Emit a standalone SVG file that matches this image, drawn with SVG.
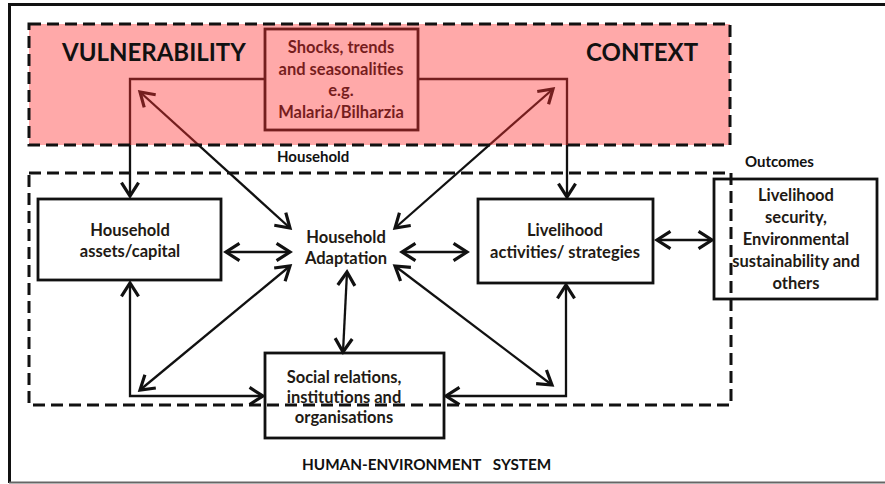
<svg xmlns="http://www.w3.org/2000/svg" width="885" height="484" viewBox="0 0 885 484">
<defs>
<marker id="ah" markerUnits="userSpaceOnUse" markerWidth="22" markerHeight="22" viewBox="-13 -9 15 18" refX="0" refY="0" orient="auto-start-reverse">
<path d="M-11,-7 L0,0 L-11,7" fill="none" stroke="#111" stroke-width="2.6" stroke-linejoin="miter"/>
</marker>
<style>
.box{fill:#fff;stroke:#111;stroke-width:2.8}
.lbl{font-family:Lato,"Liberation Sans",sans-serif;font-weight:bold;font-size:16.5px;fill:#221a14;text-anchor:middle}
.conn{fill:none;stroke:#111;stroke-width:2.3}
.dash{fill:none;stroke:#111;stroke-width:3;stroke-dasharray:12 6}
.title{font-family:Lato,"Liberation Sans",sans-serif;font-weight:bold;font-size:24px;fill:#111}
.cap{font-family:Lato,"Liberation Sans",sans-serif;font-weight:bold;font-size:15px;fill:#111}
</style>
</defs>
<rect width="885" height="484" fill="#fff"/>
<g id="frame">
<line x1="9" y1="4.5" x2="885" y2="4.5" stroke="#111" stroke-width="3"/>
<line x1="9.5" y1="3" x2="9.5" y2="483" stroke="#111" stroke-width="3"/>
<line x1="9" y1="482.5" x2="885" y2="482.5" stroke="#666" stroke-width="2"/>
</g>
<g id="shocks">
<rect class="box" x="265" y="29" width="153" height="101" style="fill:none"/>
<text class="lbl" x="341" y="53" style="fill:#111">Shocks, trends</text>
<text class="lbl" x="341" y="75" style="fill:#111">and seasonalities</text>
<text class="lbl" x="341" y="96" style="fill:#111">e.g.</text>
<text class="lbl" x="341" y="118" style="fill:#111">Malaria/Bilharzia</text>
</g>
<g id="assets">
<rect class="box" x="38" y="199" width="183" height="81"/>
<text class="lbl" x="130" y="236">Household</text>
<text class="lbl" x="130" y="257">assets/capital</text>
</g>
<g id="adaptation">
<text class="lbl" x="346" y="243">Household</text>
<text class="lbl" x="346" y="264">Adaptation</text>
</g>
<g id="livelihood">
<rect class="box" x="478" y="199" width="175" height="84"/>
<text class="lbl" x="565" y="236">Livelihood</text>
<text class="lbl" x="565" y="258">activities/ strategies</text>
</g>
<g id="outcomes">
<text class="cap" x="745" y="167">Outcomes</text>
<rect class="box" x="714" y="179" width="163" height="120"/>
<text class="lbl" x="796" y="201">Livelihood</text>
<text class="lbl" x="796" y="223">security,</text>
<text class="lbl" x="796" y="245">Environmental</text>
<text class="lbl" x="796" y="267">sustainability  and</text>
<text class="lbl" x="796" y="289">others</text>
</g>
<g id="social">
<rect class="box" x="265" y="353" width="179" height="85"/>
<text class="lbl" x="344" y="383">Social relations,</text>
<text class="lbl" x="344" y="403">institutions and</text>
<text class="lbl" x="344" y="423">organisations</text>
</g>
<g id="connectors">
<path class="conn" d="M265,79 H130 V196" marker-end="url(#ah)"/>
<path class="conn" d="M418,79 H567 V197" marker-end="url(#ah)"/>
<line class="conn" x1="140" y1="92" x2="290" y2="228" marker-start="url(#ah)" marker-end="url(#ah)"/>
<line class="conn" x1="553" y1="89" x2="395" y2="228" marker-start="url(#ah)" marker-end="url(#ah)"/>
<line class="conn" x1="226" y1="252" x2="290" y2="252" marker-start="url(#ah)" marker-end="url(#ah)"/>
<line class="conn" x1="402" y1="252" x2="467" y2="252" marker-start="url(#ah)" marker-end="url(#ah)"/>
<line class="conn" x1="657" y1="240" x2="712" y2="240" marker-start="url(#ah)" marker-end="url(#ah)"/>
<line class="conn" x1="347" y1="272" x2="343" y2="352" marker-start="url(#ah)" marker-end="url(#ah)"/>
<path class="conn" d="M130,283 V396 H263" marker-start="url(#ah)" marker-end="url(#ah)"/>
<path class="conn" d="M566,285 V396 H446" marker-start="url(#ah)" marker-end="url(#ah)"/>
<line class="conn" x1="290" y1="266" x2="140" y2="390" marker-start="url(#ah)" marker-end="url(#ah)"/>
<line class="conn" x1="395" y1="266" x2="552" y2="385" marker-start="url(#ah)" marker-end="url(#ah)"/>
</g>
<g id="vulnerability-context">
<rect x="29" y="24" width="701" height="121" fill="rgb(255,50,50)" fill-opacity="0.42"/>
<rect class="dash" x="29" y="24" width="701" height="121"/>
<text class="title" x="62" y="61">VULNERABILITY</text>
<text class="title" x="586" y="61">CONTEXT</text>
</g>
<g id="household">
<text class="cap" x="277" y="162">Household</text>
<rect class="dash" x="29" y="173" width="702" height="232"/>
</g>
<g id="system">
<text class="cap" x="302" y="470" style="word-spacing:8px;font-size:15.3px">HUMAN-ENVIRONMENT SYSTEM</text>
</g>
</svg>
